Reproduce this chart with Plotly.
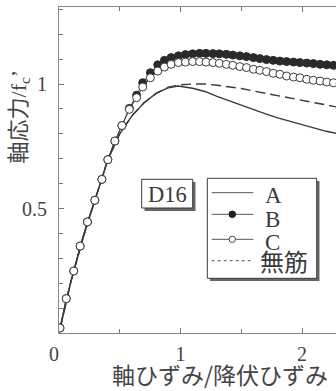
import plotly.graph_objects as go

# ---------------- data ----------------
a_x = [0.01, 0.1, 0.2, 0.3, 0.4, 0.5, 0.6, 0.7, 0.8, 0.9, 0.98, 1.1, 1.2, 1.3, 1.4,
       1.5, 1.6, 1.7, 1.8, 1.9, 2.0, 2.1, 2.2, 2.3]
a_y = [0.02, 0.21, 0.385, 0.54, 0.695, 0.80, 0.872, 0.925, 0.962, 0.985, 0.992, 0.983,
       0.97, 0.95, 0.932, 0.916, 0.898, 0.88, 0.864, 0.85, 0.835, 0.822, 0.81, 0.80]

plain_x = [0.01, 0.1, 0.2, 0.3, 0.4, 0.5, 0.6, 0.7, 0.8, 0.9, 1.0, 1.1, 1.2, 1.3, 1.4,
           1.5, 1.6, 1.7, 1.8, 1.9, 2.0, 2.1, 2.2, 2.3]
plain_y = [0.02, 0.21, 0.385, 0.54, 0.695, 0.80, 0.872, 0.925, 0.962, 0.987, 0.997, 1.0,
           1.0, 0.995, 0.99, 0.982, 0.972, 0.962, 0.952, 0.943, 0.934, 0.925, 0.916, 0.906]

bc_x = [0.008, 0.06, 0.121, 0.174, 0.234, 0.295, 0.353, 0.402, 0.46, 0.518, 0.579, 0.639,
        0.689, 0.752, 0.813, 0.868, 0.923, 0.983, 1.041, 1.10, 1.157, 1.21, 1.267, 1.32,
        1.377, 1.43, 1.488, 1.543, 1.6, 1.653, 1.708, 1.763, 1.818, 1.873, 1.93, 1.983,
        2.039, 2.093, 2.149, 2.204, 2.259, 2.314]
b_y = [0.02, 0.138, 0.249, 0.349, 0.446, 0.533, 0.617, 0.696, 0.771, 0.833, 0.902, 0.955,
       1.005, 1.045, 1.077, 1.095, 1.106, 1.113, 1.118, 1.121, 1.123, 1.123, 1.122, 1.121,
       1.119, 1.116, 1.113, 1.11, 1.106, 1.102, 1.098, 1.095, 1.092, 1.09, 1.088, 1.086,
       1.084, 1.082, 1.079, 1.077, 1.075, 1.073]
c_y = [0.02, 0.138, 0.249, 0.349, 0.446, 0.533, 0.617, 0.696, 0.771, 0.833, 0.898, 0.945,
       0.988, 1.025, 1.052, 1.068, 1.079, 1.086, 1.088, 1.09, 1.09, 1.088, 1.086, 1.083,
       1.079, 1.075, 1.07, 1.066, 1.059, 1.055, 1.05, 1.043, 1.039, 1.032, 1.028, 1.025,
       1.019, 1.015, 1.012, 1.008, 1.005, 1.002]

x_ticks = [1, 2]
x_ticklabels = ["1", "2"]
y_ticks = [0.5, 1.0]
y_ticklabels = ["0.5", "1"]
x_minor = [0.5, 1.5]
y_minor = [0.1, 0.2, 0.3, 0.4, 0.6, 0.7, 0.8, 0.9, 1.1, 1.2, 1.3]

series_names = ["A", "B", "C", "無筋"]

# ---------------- layout helpers ----------------
W, H = 336, 391
ML, MR, MT, MB = 59, 0, 7, 58
PW, PH = W - ML - MR, H - MT - MB


def px(x):
    return (x - ML) / PW


def py(y):
    return (H - MB - y) / PH


INK = "#3a3a3a"
SERIF = "Liberation Serif, Times New Roman, serif"
CJK = "Noto Sans CJK JP, sans-serif"

fig = go.Figure()
fig.add_trace(go.Scatter(x=a_x, y=a_y, mode="lines", name=series_names[0],
                         line=dict(color=INK, width=1.4), showlegend=False))
fig.add_trace(go.Scatter(x=plain_x, y=plain_y, mode="lines", name=series_names[3],
                         line=dict(color=INK, width=1.4, dash="10px,5px"), showlegend=False))
fig.add_trace(go.Scatter(x=bc_x, y=b_y, mode="lines+markers", name=series_names[1],
                         line=dict(color=INK, width=1),
                         marker=dict(symbol="circle", size=8, color="#2a2a2a",
                                     line=dict(color="#2a2a2a", width=1)),
                         showlegend=False))
fig.add_trace(go.Scatter(x=bc_x, y=c_y, mode="lines+markers", name=series_names[2],
                         line=dict(color=INK, width=1),
                         marker=dict(symbol="circle", size=8, color="white",
                                     line=dict(color=INK, width=1)),
                         showlegend=False))

axis_common = dict(showgrid=False, zeroline=False, showline=True, linecolor="#888",
                   linewidth=1, ticks="inside", ticklen=5, tickcolor="#777",
                   tickfont=dict(family=SERIF, size=20, color="#444"))

fig.update_xaxes(range=[0, PW / 121.5], tickmode="array", tickvals=x_ticks,
                 ticktext=x_ticklabels, mirror="ticks", ticklabelstandoff=3,
                 minor=dict(tickmode="array", tickvals=x_minor, ticks="inside",
                            ticklen=4, tickcolor="#777"),
                 **axis_common)
fig.update_yaxes(range=[0, PH / 249.0], tickmode="array", tickvals=y_ticks,
                 ticktext=y_ticklabels, mirror=False, ticklabelstandoff=7,
                 minor=dict(tickmode="array", tickvals=y_minor, ticks="inside",
                            ticklen=4, tickcolor="#777"),
                 **axis_common)

shapes = []
# D16 box with drop shadow
shapes.append(dict(type="rect", xref="paper", yref="paper", x0=px(144.5), x1=px(195.5),
                   y0=py(211), y1=py(182), fillcolor="#666", line=dict(width=0)))
shapes.append(dict(type="rect", xref="paper", yref="paper", x0=px(141.7), x1=px(192.7),
                   y0=py(208), y1=py(179.3), fillcolor="white",
                   line=dict(color=INK, width=1)))
# legend box with drop shadow
shapes.append(dict(type="rect", xref="paper", yref="paper", x0=px(210), x1=px(319.5),
                   y0=py(281), y1=py(181), fillcolor="#666", line=dict(width=0)))
shapes.append(dict(type="rect", xref="paper", yref="paper", x0=px(207.3), x1=px(316.7),
                   y0=py(278.3), y1=py(178.3), fillcolor="white",
                   line=dict(color=INK, width=1)))
# legend samples
for yy, dash in [(192.7, "solid"), (214.3, "solid"), (239.3, "solid"), (260.7, "3px,3px")]:
    shapes.append(dict(type="line", xref="paper", yref="paper", x0=px(211.7), x1=px(253.3),
                       y0=py(yy), y1=py(yy), line=dict(color="#555", width=1, dash=dash)))
shapes.append(dict(type="circle", xref="paper", yref="paper", xsizemode="pixel",
                   ysizemode="pixel", xanchor=px(232.3), yanchor=py(214.3),
                   x0=-3.3, x1=3.3, y0=-3.3, y1=3.3, fillcolor="#222",
                   line=dict(color="#222", width=1)))
shapes.append(dict(type="circle", xref="paper", yref="paper", xsizemode="pixel",
                   ysizemode="pixel", xanchor=px(232.3), yanchor=py(239.3),
                   x0=-3.2, x1=3.2, y0=-3.2, y1=3.2, fillcolor="white",
                   line=dict(color="#444", width=1)))

ann = []
ann.append(dict(text="D16", x=px(167.5), y=py(194.5), xanchor="center", yanchor="middle",
                font=dict(family=SERIF, size=22.5, color=INK)))
for name, yy in zip(series_names[:3], [195.5, 219, 242.5]):
    ann.append(dict(text=name, x=px(263), y=py(yy), xanchor="left", yanchor="middle",
                    font=dict(family=SERIF, size=23, color=INK)))
ann.append(dict(text=series_names[3], x=px(258), y=py(260), xanchor="left",
                yanchor="middle", font=dict(family=CJK, size=24, color=INK)))
# origin label
ann.append(dict(text="0", x=px(53.5), y=py(354), xanchor="center", yanchor="middle",
                font=dict(family=SERIF, size=20, color="#444")))
# axis titles
ann.append(dict(text="軸ひずみ/降伏ひずみ", x=px(220), y=py(374), xanchor="center",
                yanchor="middle", font=dict(family=CJK, size=23, color="#444")))
ann.append(dict(text="軸応力<span style='font-family:Liberation Serif'>/f<sub>c</sub>’</span>",
                x=px(16.5), y=py(117), xanchor="center", yanchor="middle",
                textangle=-90, font=dict(family=CJK, size=22, color="#444")))
for a in ann:
    a.update(xref="paper", yref="paper", showarrow=False)

fig.update_layout(width=W, height=H, margin=dict(l=ML, r=MR, t=MT, b=MB, pad=0),
                  paper_bgcolor="white", plot_bgcolor="white",
                  shapes=shapes, annotations=ann, showlegend=False)

fig.write_html("out.html")
